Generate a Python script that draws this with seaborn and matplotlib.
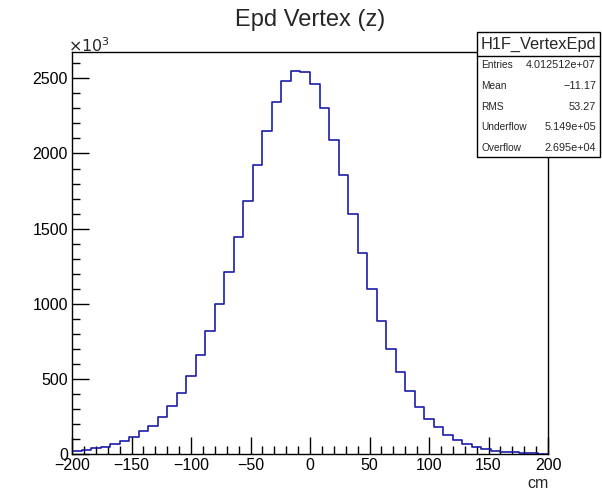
import numpy as np
import pandas as pd
import matplotlib
matplotlib.use("Agg")
import matplotlib.pyplot as plt
from matplotlib.ticker import MultipleLocator
import seaborn as sns

# ---- data (counts in thousands, 50 bins of 8 cm from -200 to 200) ----
bin_edges = list(range(-200, 201, 8))
counts_k = [18, 25, 38, 45, 65, 85, 111, 150, 189, 249,
            322, 408, 522, 656, 820, 1000, 1213, 1444, 1684, 1924,
            2151, 2342, 2480, 2548, 2541, 2464, 2304, 2093, 1856, 1598,
            1338, 1098, 884, 700, 547, 420, 316, 236, 178, 127,
            93, 67, 44, 33, 23, 16, 11, 5, 4, 0]
title = "Epd Vertex (z)"
x_label = "cm"
stats_title = "H1F_VertexEpd"
stats_labels = ["Entries", "Mean", "RMS", "Underflow", "Overflow"]
stats_values = ["4.012512e+07", "\u221211.17", "53.27", "5.149e+05", "2.695e+04"]

centers = [(bin_edges[i] + bin_edges[i + 1]) / 2 for i in range(len(counts_k))]
df = pd.DataFrame({"z": centers, "w": counts_k})

sns.set_theme(style="white")
plt.rcParams["font.family"] = ["Liberation Sans", "DejaVu Sans"]

W, H = 602, 492
fig = plt.figure(figsize=(W / 100, H / 100), dpi=100)
L, R, T, B = 72, 548, 52, 454
ax = fig.add_axes([L / W, 1 - B / H, (R - L) / W, (B - T) / H])

sns.histplot(data=df, x="z", weights="w", bins=bin_edges, element="step",
             fill=False, color="#1c1caa", linewidth=1.2, ax=ax)

ax.set_xlim(-200, 200)
ax.set_ylim(0, 1.05 * max(counts_k))
ax.set_xlabel("")
ax.set_ylabel("")

for s in ax.spines.values():
    s.set_color("black")
    s.set_linewidth(1.0)

ax.xaxis.set_major_locator(MultipleLocator(50))
ax.xaxis.set_minor_locator(MultipleLocator(10))
ax.yaxis.set_major_locator(MultipleLocator(500))
ax.yaxis.set_minor_locator(MultipleLocator(100))
ax.tick_params(which="both", direction="in", bottom=True, left=True,
               top=False, right=False, colors="black", labelsize=11.5)
ax.tick_params(axis="x", which="major", length=12, width=1, pad=3)
ax.tick_params(axis="x", which="minor", length=6, width=1)
ax.tick_params(axis="y", which="major", length=12, width=1, pad=3)
ax.tick_params(axis="y", which="minor", length=6, width=1)
ax.xaxis.set_major_formatter(matplotlib.ticker.FuncFormatter(
    lambda v, p: f"{int(v)}".replace("-", "\u2212")))
ax.yaxis.set_major_formatter(matplotlib.ticker.FuncFormatter(
    lambda v, p: f"{int(v)}"))

def fx(x):
    return x / W

def fy(y):
    return 1 - y / H

fig.text(fx(310), fy(20), title, ha="center", va="center", fontsize=17)
fig.text(fx(68), fy(46), r"$\times10^{3}$", ha="left", va="center", fontsize=11.5,
         math_fontfamily="dejavusans")
fig.text(fx(549), fy(483), x_label, ha="right", va="center", fontsize=11.5)

# stats box
bx0, by0, bx1, by1, bsep = 477, 32, 600, 157, 56
rect = plt.Rectangle((fx(bx0), fy(by1)), (bx1 - bx0) / W, (by1 - by0) / H,
                     transform=fig.transFigure, facecolor="white",
                     edgecolor="black", linewidth=1.0, zorder=5)
fig.add_artist(rect)
fig.add_artist(plt.Line2D([fx(bx0), fx(bx1)], [fy(bsep), fy(bsep)],
                          transform=fig.transFigure, color="black",
                          linewidth=1.0, zorder=6))
fig.text(fx((bx0 + bx1) / 2), fy(44), stats_title, ha="center", va="center",
         fontsize=11.8, zorder=7)
rows_y = [65, 86, 106.5, 127.5, 148.5]
for lab, val, yy in zip(stats_labels, stats_values, rows_y):
    fig.text(fx(481), fy(yy), lab, ha="left", va="center", fontsize=7.3, zorder=7)
    fig.text(fx(596), fy(yy), val, ha="right", va="center", fontsize=7.8, zorder=7)

fig.savefig("out.png", dpi=100, facecolor="white")
